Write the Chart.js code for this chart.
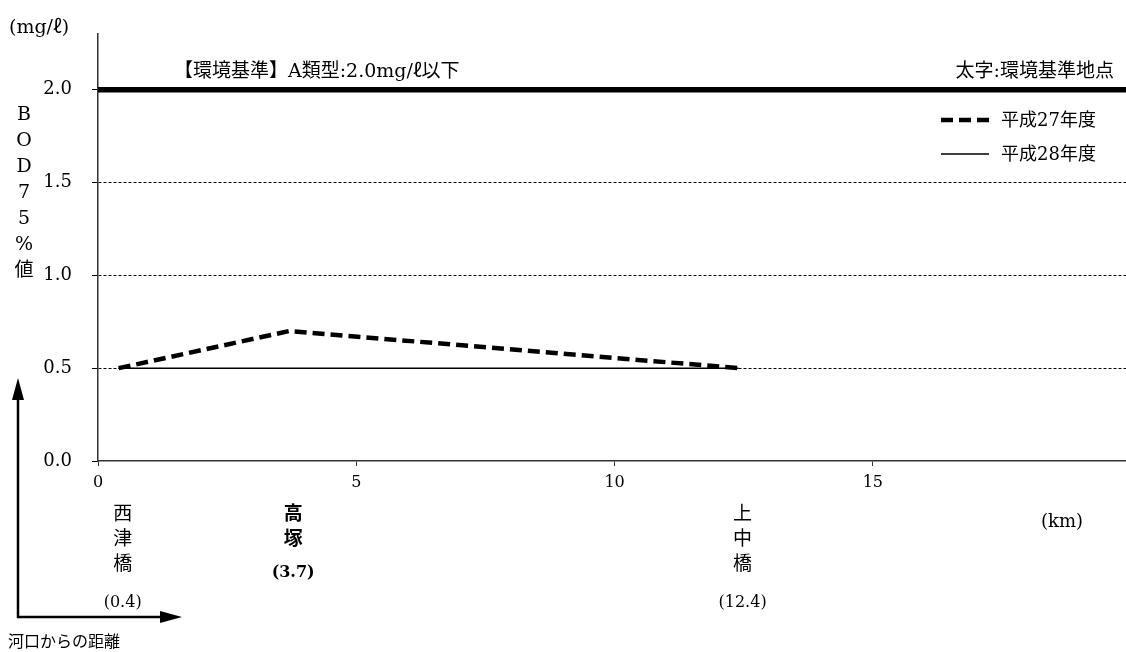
<!DOCTYPE html>
<html>
<head>
<meta charset="utf-8">
<script src="https://cdn.jsdelivr.net/npm/chart.js@4"></script>
<style>
  html, body { margin: 0; padding: 0; background: #fff; }
  #wrap { width: 1126px; height: 652px; }
</style>
</head>
<body>
<div id="wrap"><canvas id="bodChart" width="1126" height="652"></canvas></div>
<script>
// 地点と河口からの距離 (km)
const stationNames = ['西津橋', '高塚', '上中橋'];
const stationKm = [0.4, 3.7, 12.4];
const stationBold = [false, true, false];   // 太字: 環境基準地点

// BOD 75%値 (mg/ℓ)
const h27Values = [0.5, 0.7, 0.5];
const h28Values = [0.5, 0.5, 0.5];
const seriesNames = ['平成27年度', '平成28年度'];

// 環境基準 A類型
const standardValue = 2.0;

const yTicks = [0, 0.5, 1.0, 1.5, 2.0];
const xTicks = [0, 5, 10, 15];

const SERIF = "'DejaVu Serif', 'Noto Sans CJK JP', serif";
const xMax = 19.9;

const toPoints = vals => stationKm.map((km, i) => ({ x: km, y: vals[i] }));

// テキストや矢印など、枠外の注記を描く
const notes = {
    id: 'notes',
    afterDraw(chart) {
        const c = chart.ctx;
        const xs = chart.scales.x;
        c.save();
        c.fillStyle = '#000';
        c.strokeStyle = '#000';
        c.textBaseline = 'middle';

        c.font = `19px ${SERIF}`;
        c.textAlign = 'left';
        c.fillText('(mg/ℓ)', 9, 28);
        c.fillText('【環境基準】A類型:2.0mg/ℓ以下', 174, 72);
        c.textAlign = 'right';
        c.fillText('太字:環境基準地点', 1114, 72);

        // 縦書きの軸タイトル
        c.textAlign = 'center';
        'BOD75%値'.split('').forEach((ch, i) => c.fillText(ch, 24, 115 + i * 26));

        // 凡例
        const ds = chart.data.datasets;
        [0, 1].forEach(i => {
            const y = 120 + i * 34;
            c.lineWidth = ds[i].borderWidth;
            c.setLineDash(ds[i].borderDash || []);
            c.beginPath();
            c.moveTo(941, y);
            c.lineTo(989, y);
            c.stroke();
            c.setLineDash([]);
            c.textAlign = 'left';
            c.font = `18px ${SERIF}`;
            c.fillText(ds[i].label, 1001, y + 1);
        });

        // 地点名 (縦書き) と距離
        stationNames.forEach((name, i) => {
            const px = xs.getPixelForValue(stationKm[i]) + 4;
            const bold = stationBold[i] ? 'bold ' : '';
            c.textAlign = 'center';
            c.font = `${bold}19px ${SERIF}`;
            name.split('').forEach((ch, j) => c.fillText(ch, px, 515 + j * 25));
            c.font = `${bold}16px ${SERIF}`;
            const ky = 515 + name.length * 25 + (stationBold[i] ? 8 : 13);
            c.fillText(`(${stationKm[i].toFixed(1)})`, px, ky);
        });

        c.font = `18px ${SERIF}`;
        c.fillText('(km)', 1062, 522);

        // 矢印
        c.lineWidth = 2.5;
        c.beginPath();
        c.moveTo(18, 618);
        c.lineTo(18, 398);
        c.moveTo(17, 617);
        c.lineTo(162, 617);
        c.stroke();
        c.beginPath();
        c.moveTo(18, 378); c.lineTo(12, 400); c.lineTo(24, 400); c.closePath();
        c.moveTo(182, 617); c.lineTo(160, 611); c.lineTo(160, 623); c.closePath();
        c.fill();

        c.font = `16px ${SERIF}`;
        c.textAlign = 'left';
        c.fillText('河口からの距離', 8, 643);
        c.restore();
    }
};

const ctx = document.getElementById('bodChart').getContext('2d');

new Chart(ctx, {
    type: 'line',
    data: {
        datasets: [
            {
                label: seriesNames[0],
                data: toPoints(h27Values),
                borderColor: '#000',
                borderWidth: 4.5,
                borderDash: [12, 6],
                pointRadius: 0,
                tension: 0
            },
            {
                label: seriesNames[1],
                data: toPoints(h28Values),
                borderColor: '#000',
                borderWidth: 1.5,
                pointRadius: 0,
                tension: 0
            },
            {
                label: '環境基準',
                data: [{ x: 0, y: standardValue }, { x: xMax, y: standardValue }],
                borderColor: '#000',
                borderWidth: 5.5,
                pointRadius: 0
            }
        ]
    },
    options: {
        responsive: false,
        animation: false,
        layout: { padding: { top: 34, right: 0, left: 0, bottom: 0 } },
        plugins: {
            legend: { display: false },
            tooltip: { enabled: false }
        },
        scales: {
            x: {
                type: 'linear',
                min: 0,
                max: xMax,
                afterBuildTicks: s => { s.ticks = xTicks.map(v => ({ value: v })); },
                afterFit: s => { s.height = 191; },
                ticks: {
                    font: { family: SERIF, size: 16 },
                    color: '#000',
                    padding: 7,
                    maxRotation: 0,
                    autoSkip: false
                },
                grid: { drawOnChartArea: false, tickLength: 5, tickColor: '#333' },
                border: { color: '#333', width: 1.5 }
            },
            y: {
                min: 0,
                max: 2.3,
                afterBuildTicks: s => { s.ticks = yTicks.map(v => ({ value: v })); },
                afterFit: s => { s.width = 98; },
                ticks: {
                    font: { family: SERIF, size: 18 },
                    color: '#000',
                    padding: 20,
                    callback: v => v.toFixed(1)
                },
                grid: {
                    color: c => (c.tick && (c.tick.value === 0 || c.tick.value === 2)) ? 'rgba(0,0,0,0)' : '#000',
                    lineWidth: 1,
                    tickLength: 6,
                    tickColor: '#000',
                    tickBorderDash: []
                },
                border: { color: '#333', width: 1.5, dash: [3, 2] }
            }
        }
    },
    plugins: [notes]
});
</script>
</body>
</html>
